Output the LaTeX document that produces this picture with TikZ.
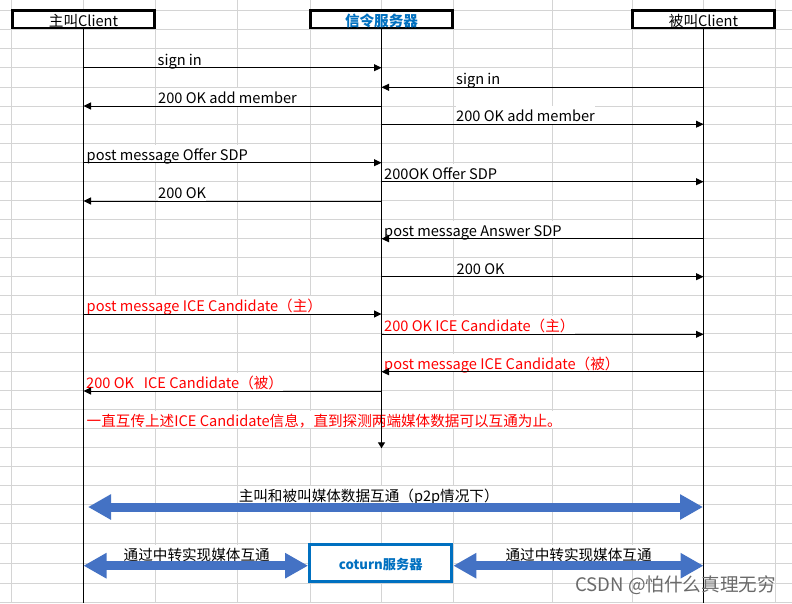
\documentclass[tikz,border=0pt]{standalone}
\usepackage{fontspec}
\setmainfont{Noto Sans CJK SC}
\usetikzlibrary{arrows.meta}
\definecolor{gridc}{HTML}{D4D4D4}
\definecolor{bigblue}{HTML}{4472C4}
\definecolor{hdrblue}{HTML}{0070C0}
\definecolor{icered}{HTML}{FF0000}
\definecolor{wmgray}{HTML}{6A6A6A}
\newcommand\myfs[1]{\fontsize{#1}{#1}\selectfont}
\begin{document}
\begin{tikzpicture}[x=1pt,y=-1pt,
  gridline/.style={draw=gridc,line width=1pt},
  hdr/.style={draw=black,fill=white,line width=2.5pt,minimum width=142pt,minimum height=17.5pt,inner sep=0pt,text height=15.4pt,text depth=1pt,font=\myfs{14.6}},
  srvtext/.style={text=hdrblue,font=\myfs{14.6}\bfseries},
  cobox/.style={draw=hdrblue,fill=white,line width=3pt,minimum width=142.3pt,minimum height=37.6pt,inner sep=0pt,text height=14pt,text depth=1pt,text=hdrblue,font=\myfs{13.2}\bfseries},
  lbl/.style={anchor=base west,inner sep=0pt,fill=white,text height=15.5pt,text depth=2.2pt,font=\myfs{14.6}},
  icelbl/.style={lbl,text=icered},
  biglbl/.style={lbl,anchor=base},
  life/.style={draw=black,line width=1.3pt},
  msg/.style={draw=black,line width=1pt,-{Triangle[length=7.5pt,width=7pt]}},
  big/.style={draw=bigblue,line width=9pt,{Triangle[length=23pt,width=24pt]}-{Triangle[length=23pt,width=24pt]}}
]
\useasboundingbox[fill=white] (0,0) rectangle (792,603);
% grid
\foreach \gx in {11.7,83.3,155.7,237.7,310,381.7,453,552,632,703.3,775.7}
  \draw[gridline] (\gx,0) -- (\gx,603);
\foreach \gy in {10,29,48.3,67.7,87,106,124.5,143.5,162.7,181.7,200.8,219.5,238.7,257.5,276.7,295.3,314.2,333.5,352.5,371.5,390.5,409.3,428.3,447.7,466.3,485.3,504.5,523.5,543,563.3,583.3,602.5}
  \draw[gridline] (0,\gy) -- (792,\gy);

% labels
\node[lbl] (t1) at (157.5,65) {sign in};
\node[lbl] (t2) at (456,84.6) {sign in};
\node[lbl] (t3) at (158,103.3) {200 OK add member};
\node[lbl] (t4) at (456,121.5) {200 OK add member};
\node[lbl] (t5) at (86.5,160) {post message Offer SDP};
\node[lbl] (t6) at (384,179) {200OK Offer SDP};
\node[lbl] (t7) at (158,198.3) {200 OK};
\node[lbl] (t8) at (384,236) {post message Answer SDP};
\node[lbl] (t9) at (456.5,274) {200 OK};
\node[icelbl] (t10) at (86.5,311.3) {post message ICE Candidate（主）};
\node[icelbl] (t11) at (384,331.5) {200 OK ICE Candidate（主）};
\node[icelbl] (t12) at (384,369) {post message ICE Candidate（被）};
\node[icelbl] (t13) at (86,388.3) {200 OK\ \ \ ICE Candidate（被）};
\node[icelbl] (t14) at (86.5,426) {一直互传上述ICE Candidate信息，直到探测两端媒体数据可以互通为止。};
\node[biglbl] (t15) at (368.7,501.5) {主叫和被叫媒体数据互通（p2p情况下）};
\node[biglbl] (t16) at (196.7,560.5) {通过中转实现媒体互通};
\node[biglbl] (t17) at (578.6,560.5) {通过中转实现媒体互通};

% header boxes
\node[hdr] (A) at (83.5,19.3) {主叫Client};
\node[hdr] (S) at (381.5,19.3) {\textcolor{hdrblue}{\bfseries 信令服务器}};
\node[hdr] (C) at (703.5,19.3) {被叫Client};
\node[cobox] (T) at (380.7,563) {coturn服务器};

% lifelines
\coordinate (bot) at (0,603);
\coordinate (send) at (381.5,448.3);
\draw[life] (A.south) -- (A.south |- bot);
\draw[life] (C.south) -- (C.south |- bot);
\draw[life,-{Triangle[length=6pt,width=7pt]}] (S.south) -- (send);

% messages
\coordinate (m1) at (0,67.7);
\coordinate (m2) at (0,87.3);
\coordinate (m3) at (0,106);
\coordinate (m4) at (0,124.2);
\coordinate (m5) at (0,162.7);
\coordinate (m6) at (0,181.7);
\coordinate (m7) at (0,201);
\coordinate (m8) at (0,238.7);
\coordinate (m9) at (0,276.7);
\coordinate (m10) at (0,314);
\coordinate (m11) at (0,334.3);
\coordinate (m12) at (0,371.7);
\coordinate (m13) at (0,391);
\draw[msg] (A.south |- m1) -- (S.south |- m1);
\draw[msg] (C.south |- m2) -- (S.south |- m2);
\draw[msg] (S.south |- m3) -- (A.south |- m3);
\draw[msg] (S.south |- m4) -- (C.south |- m4);
\draw[msg] (A.south |- m5) -- (S.south |- m5);
\draw[msg] (S.south |- m6) -- (C.south |- m6);
\draw[msg] (S.south |- m7) -- (A.south |- m7);
\draw[msg] (C.south |- m8) -- (S.south |- m8);
\draw[msg] (S.south |- m9) -- (C.south |- m9);
\draw[msg] (A.south |- m10) -- (S.south |- m10);
\draw[msg] (S.south |- m11) -- (C.south |- m11);
\draw[msg] (C.south |- m12) -- (S.south |- m12);
\draw[msg] (S.south |- m13) -- (A.south |- m13);

% big media arrows
\coordinate (pL) at (88,507);
\coordinate (pR) at (703,507);
\coordinate (rl) at (0,565.7);
\draw[big] (pL) -- (pR);
\draw[big] (A.south |- rl) -- (T.west |- rl);
\draw[big] (T.east |- rl) -- (C.south |- rl);

% watermark
\node[anchor=base west,inner sep=0pt,text=wmgray,font=\myfs{18.6}] (wm) at (575,591) {CSDN @怕什么真理无穷};
\end{tikzpicture}
\end{document}
